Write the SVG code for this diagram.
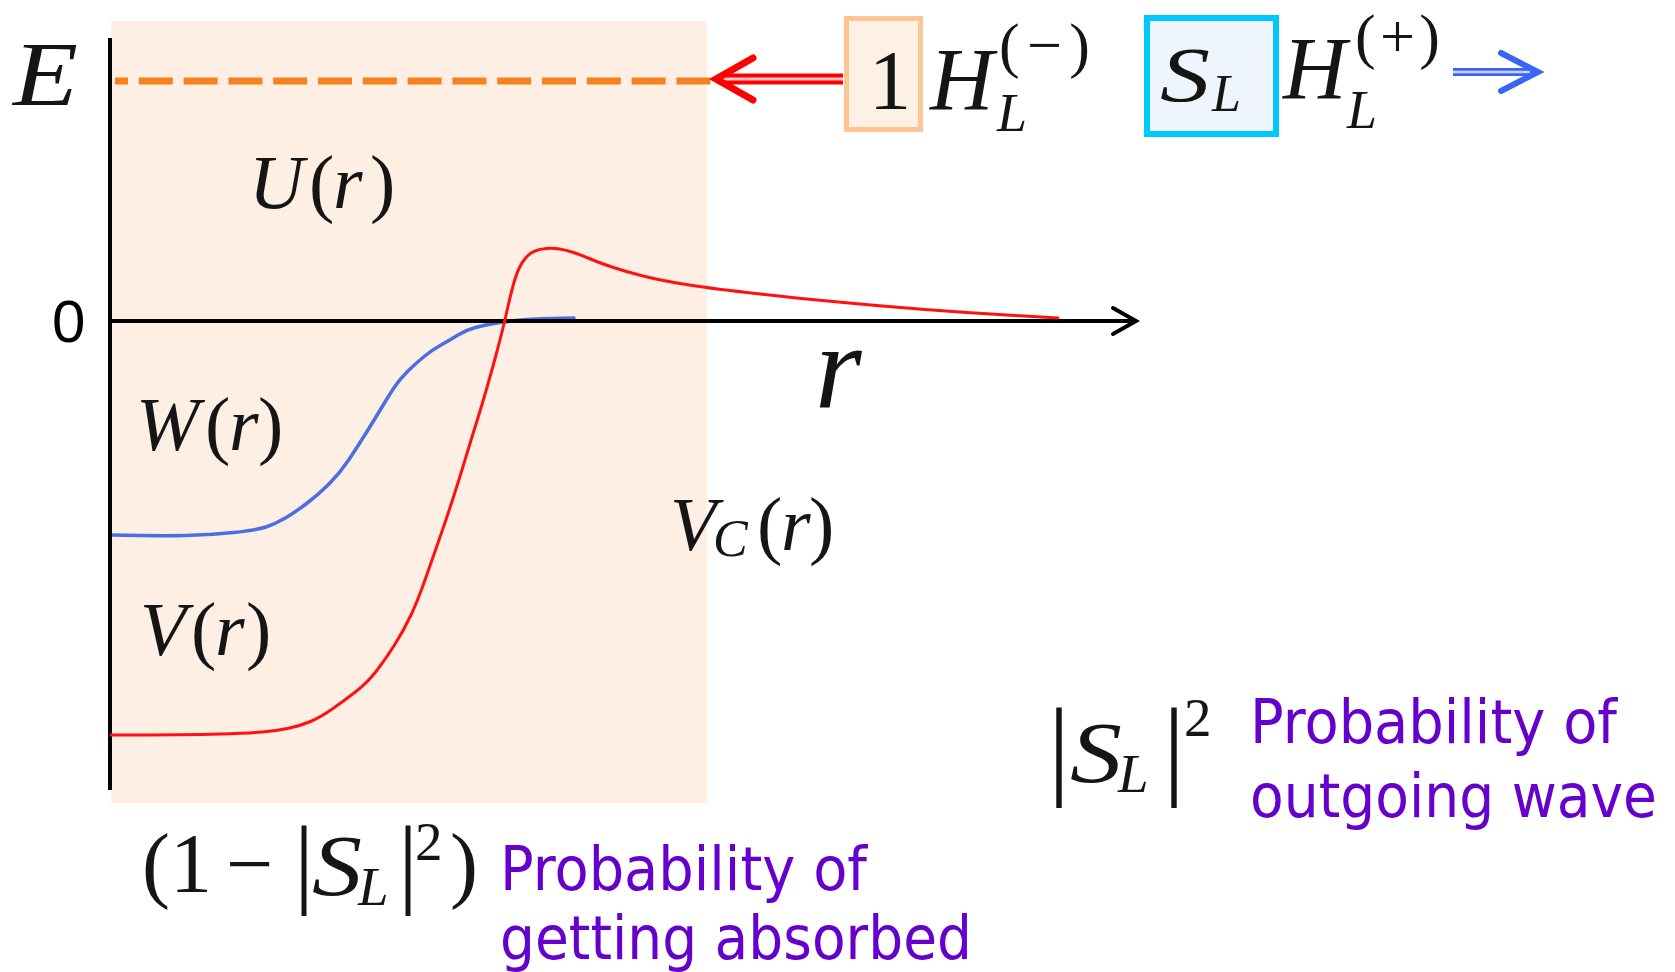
<svg xmlns="http://www.w3.org/2000/svg" width="1675" height="972" viewBox="0 0 1675 972">
<style>
.m{font-family:"Liberation Serif","Times New Roman",serif;fill:#151515}
.i{font-style:italic}
.p{font-family:"DejaVu Sans","Liberation Sans",sans-serif;fill:#6600cc;font-size:60px}
.ax{stroke:#000;fill:none;stroke-width:4}
.cv{fill:none;stroke-linejoin:round;stroke-linecap:round}
</style>
<rect width="1675" height="972" fill="#fff"/>
<g id="absorption-region">
<rect x="111" y="21" width="596" height="782" fill="#fdefe3"/>
</g>
<g id="energy-level">
<line x1="115" y1="81" x2="712" y2="81" stroke="#f7811f" stroke-width="7" stroke-dasharray="34 10.8" stroke-dashoffset="21"/>
</g>
<g id="curves">
<path id="W-curve" class="cv" stroke="#4a6fe3" stroke-width="3.5" d="M111,535 Q160,536 185,535.5 Q210,535 233.5,532.5 Q257,530 266,527 Q275,524 284.5,518.5 Q294,513 306,504 Q318,495 329,484 Q340,473 349,459.5 Q358,446 367,431.5 Q376,417 382,407 Q388,397 393.5,388.5 Q399,380 407,372 Q415,364 423.5,357 Q432,350 441,345 Q450,340 458,335 Q466,330 475.5,327.5 Q485,325 494,323.5 Q503,322 516.5,320.5 Q530,319 552,318.5 L574,318"/>
</g>
<g id="axes">
<line class="ax" x1="110" y1="38" x2="110" y2="790"/>
<line class="ax" x1="110" y1="321" x2="1135" y2="321" stroke-width="3.5"/>
<polyline class="ax" points="1113,308 1136,321 1113,334" stroke-linecap="round"/>
</g>
<g id="V-curve-group">
<path id="V-curve" class="cv" stroke="#ff1111" stroke-width="3" d="M111,735 Q190,735 220,734 Q250,733 262.5,732 Q275,731 287.5,728.5 Q300,726 310.5,721.5 Q321,717 333,708.5 Q345,700 356,691.5 Q367,683 376,671.5 Q385,660 394.5,645 Q404,630 411,615 Q418,600 425,580 Q432,560 439,540 Q446,520 452.5,500 Q459,480 465,460 Q471,440 476.5,422.5 Q482,405 487,387.5 Q492,370 496,355 Q500,340 502.5,330 Q505,320 507.5,308.5 Q510,297 513,286 Q516,275 519,268.5 Q522,262 526,257.5 Q530,253 535,251 Q540,249 546.5,248.5 Q553,248 559.5,249 Q566,250 573.5,252.5 Q581,255 590.5,259 Q600,263 613.5,267.5 Q627,272 643,276 Q659,280 683,284 Q707,288 747,292.5 Q787,297 833,301.5 Q879,306 925,309.5 Q971,313 1014.5,315.5 L1058,318"/>
</g>
<g id="connectors">
<g id="incoming-arrow">
<line x1="720" y1="79" x2="843" y2="79" stroke="#ff0000" stroke-width="11"/>
<line x1="722" y1="79" x2="843" y2="79" stroke="#ffc8c8" stroke-width="3"/>
<polyline points="753,58 716,79 753,100" fill="none" stroke="#ff0000" stroke-width="7" stroke-linecap="round"/>
</g>
<g id="outgoing-arrow">
<line x1="1453" y1="72" x2="1532" y2="72" stroke="#3b64f5" stroke-width="8"/>
<line x1="1453" y1="72" x2="1530" y2="72" stroke="#c8d4ff" stroke-width="2.5"/>
<polyline points="1501,53 1538,72 1501,91" fill="none" stroke="#3b64f5" stroke-width="6" stroke-linecap="round"/>
</g>
</g>
<g id="axis-labels">
<text class="m i" x="13" y="105" font-size="90" textLength="65" lengthAdjust="spacingAndGlyphs">E</text>
<text x="52" y="342" font-family="Liberation Sans, Arial, sans-serif" font-size="60" fill="#000">0</text>
<text class="m i" x="815" y="408" font-size="120">r</text>
</g>
<g id="label-U">
<text class="m" y="208" font-size="76"><tspan class="i" x="249">U</tspan><tspan x="309">(</tspan><tspan class="i" x="333">r</tspan><tspan x="370">)</tspan></text>
</g>
<g id="label-W">
<text class="m" y="450" font-size="76"><tspan class="i" x="136">W</tspan><tspan x="205">(</tspan><tspan class="i" x="229">r</tspan><tspan x="258">)</tspan></text>
</g>
<g id="label-V">
<text class="m" y="655" font-size="76"><tspan class="i" x="140">V</tspan><tspan x="191">(</tspan><tspan class="i" x="215">r</tspan><tspan x="246">)</tspan></text>
</g>
<g id="label-VC">
<text class="m i" x="670" y="550" font-size="76">V</text>
<text class="m i" x="713" y="556" font-size="52">C</text>
<text class="m" y="550" font-size="76"><tspan x="757">(</tspan><tspan class="i" x="781">r</tspan><tspan x="809">)</tspan></text>
</g>
<g id="incoming-term">
<rect x="846.5" y="18.5" width="74" height="111" fill="#fdf1e6" stroke="#fcc591" stroke-width="5"/>
<text class="m" x="890" y="109" font-size="85" text-anchor="middle">1</text>
<text class="m i" x="930" y="109" font-size="88">H</text>
<text class="m i" x="997" y="131" font-size="54">L</text>
<text class="m" x="999" y="66" font-size="62" textLength="91">(−)</text>
</g>
<g id="outgoing-term">
<rect x="1147" y="18" width="129" height="116" fill="#eef5fc" stroke="#00c8fa" stroke-width="6"/>
<text class="m i" x="1160" y="101" font-size="78" textLength="50" lengthAdjust="spacingAndGlyphs">S</text>
<text class="m i" x="1212" y="111" font-size="52">L</text>
<text class="m i" x="1283" y="98" font-size="88">H</text>
<text class="m i" x="1347" y="128" font-size="54">L</text>
<text class="m" x="1355" y="57" font-size="62" textLength="85">(+)</text>
</g>
<g id="absorbed-label">
<text class="m" x="142" y="892" font-size="84">(</text>
<text class="m" x="170" y="892" font-size="84">1</text>
<text class="m" x="226" y="892" font-size="84">−</text>
<text class="m" x="294" y="895" font-size="100">|</text>
<text class="m i" x="312" y="895" font-size="86" textLength="50" lengthAdjust="spacingAndGlyphs">S</text>
<text class="m i" x="358" y="905" font-size="55">L</text>
<text class="m" x="398" y="895" font-size="100">|</text>
<text class="m" x="415" y="860" font-size="55">2</text>
<text class="m" x="450" y="892" font-size="84">)</text>
<text class="p" x="500" y="890" textLength="367" lengthAdjust="spacingAndGlyphs">Probability of</text>
<text class="p" x="500" y="959" textLength="472" lengthAdjust="spacingAndGlyphs">getting absorbed</text>
</g>
<g id="outgoing-label">
<text class="m" x="1048" y="785" font-size="110">|</text>
<text class="m i" x="1070" y="782" font-size="86" textLength="52" lengthAdjust="spacingAndGlyphs">S</text>
<text class="m i" x="1118" y="792" font-size="55">L</text>
<text class="m" x="1163" y="785" font-size="110">|</text>
<text class="m" x="1184" y="736" font-size="55">2</text>
<text class="p" x="1250" y="743" font-size="57" textLength="367" lengthAdjust="spacingAndGlyphs">Probability of</text>
<text class="p" x="1250" y="817" font-size="57" textLength="407" lengthAdjust="spacingAndGlyphs">outgoing wave</text>
</g>
</svg>
